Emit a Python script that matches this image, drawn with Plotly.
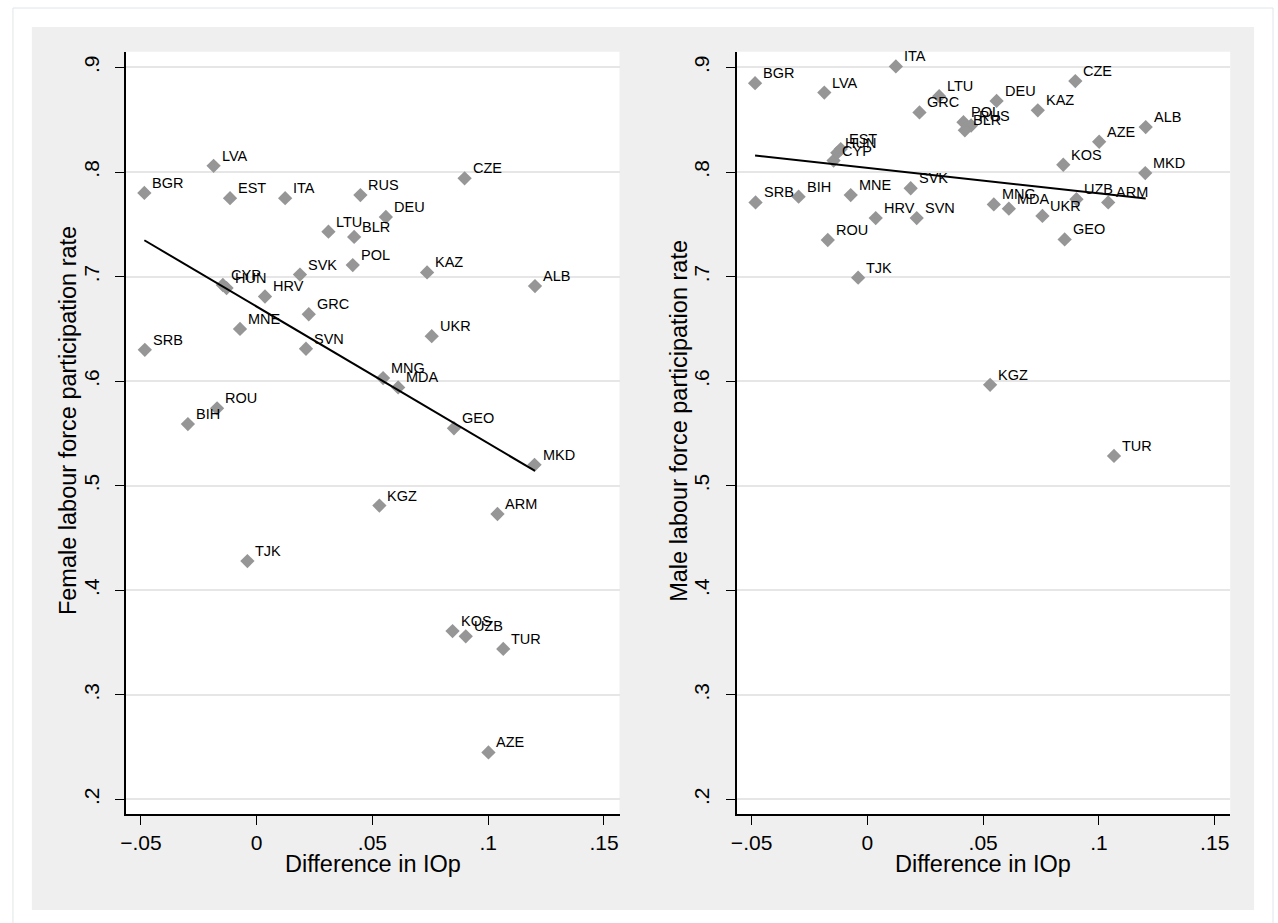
import numpy as np
import plotly.graph_objects as go

# Countries and their difference in inequality of opportunity (IOp)
countries = ["BGR", "LVA", "EST", "ITA", "RUS", "CZE", "DEU", "LTU", "BLR", "POL",
             "KAZ", "SVK", "CYP", "HUN", "HRV", "GRC", "MNE", "SRB", "SVN", "UKR",
             "MNG", "MDA", "ROU", "BIH", "GEO", "MKD", "ALB", "KGZ", "ARM", "KOS",
             "UZB", "TUR", "AZE", "TJK"]
iop_diff = [-0.0485, -0.0186, -0.0115, 0.0123, 0.0448, 0.0898, 0.0558, 0.0310, 0.0421, 0.0415,
            0.0736, 0.0187, -0.0146, -0.0130, 0.0036, 0.0225, -0.0072, -0.0483, 0.0213, 0.0756,
            0.0546, 0.0611, -0.0171, -0.0297, 0.0852, 0.1200, 0.1202, 0.0530, 0.1040, 0.0846,
            0.0903, 0.1065, 0.1001, -0.0040]

# Labour force participation rates
female_lfp = [0.780, 0.806, 0.775, 0.775, 0.778, 0.794, 0.757, 0.743, 0.738, 0.711,
              0.704, 0.702, 0.692, 0.689, 0.681, 0.664, 0.650, 0.630, 0.631, 0.643,
              0.603, 0.594, 0.574, 0.559, 0.555, 0.520, 0.691, 0.481, 0.473, 0.361,
              0.356, 0.344, 0.245, 0.428]
male_lfp = [0.885, 0.876, 0.822, 0.901, 0.8445, 0.887, 0.868, 0.8726, 0.840, 0.8477,
            0.859, 0.7845, 0.811, 0.8184, 0.756, 0.857, 0.778, 0.771, 0.756, 0.758,
            0.769, 0.765, 0.735, 0.7765, 0.7356, 0.799, 0.843, 0.5965, 0.771, 0.807,
            0.774, 0.5285, 0.829, 0.699]

x_tickvals = [-0.05, 0, 0.05, 0.1, 0.15]
x_ticktext = ["\u2212.05", "0", ".05", ".1", ".15"]
y_tickvals = [0.2, 0.3, 0.4, 0.5, 0.6, 0.7, 0.8, 0.9]
y_ticktext = [".2", ".3", ".4", ".5", ".6", ".7", ".8", ".9"]

panels = [
    ("Female labour force participation rate", female_lfp),
    ("Male labour force participation rate", male_lfp),
]

W, H = 1278, 923
FONT = "Liberation Sans, Arial, Helvetica, sans-serif"
MARKER_GREY = "#969696"

# pixel geometry of the two plot regions
plot_left = [120.4, 734.0]
plot_w = 496.0
plot_top, plot_bot = 51.7, 814.3
x_range = [-0.0565, 0.1567]
y_range = [0.1858, 0.9151]


def px(v):
    return v / W


def py(v):
    return 1 - v / H


fig = go.Figure()
shapes = []
annotations = []

# outer frame and grey graph region
shapes.append(dict(type="rect", xref="paper", yref="paper",
                   x0=px(7), x1=px(1273), y0=py(935), y1=py(8),
                   line=dict(color="#dfe6ea", width=1), fillcolor="white", layer="below"))
shapes.append(dict(type="rect", xref="paper", yref="paper",
                   x0=px(26), x1=px(1254), y0=py(910), y1=py(27),
                   line=dict(width=0), fillcolor="#efefef", layer="below"))

for i, (ytitle, yvals) in enumerate(panels):
    n = i + 1
    xa = "x" if n == 1 else f"x{n}"
    ya = "y" if n == 1 else f"y{n}"
    x0 = plot_left[i]
    dom_x = [px(x0), px(x0 + plot_w)]
    dom_y = [py(plot_bot), py(plot_top)]

    # white plot region
    shapes.append(dict(type="rect", xref="paper", yref="paper",
                       x0=dom_x[0], x1=dom_x[1], y0=dom_y[0], y1=dom_y[1],
                       line=dict(width=0), fillcolor="white", layer="below"))

    xs = np.array(iop_diff)
    ys = np.array(yvals)

    fig.add_trace(go.Scatter(
        x=xs, y=ys, mode="markers", xaxis=xa, yaxis=ya,
        marker=dict(symbol="diamond", size=11, color=MARKER_GREY, line=dict(width=0)),
        showlegend=False, hoverinfo="skip"))

    # linear fit over the observed range
    slope, intercept = np.polyfit(xs, ys, 1)
    fx = np.array([xs.min(), xs.max()])
    fig.add_trace(go.Scatter(
        x=fx, y=intercept + slope * fx, mode="lines", xaxis=xa, yaxis=ya,
        line=dict(color="black", width=2), showlegend=False, hoverinfo="skip"))

    for c, xv, yv in zip(countries, xs, ys):
        annotations.append(dict(
            x=xv, y=yv, xref=xa, yref=ya, text=c, showarrow=False,
            xanchor="left", yanchor="middle", xshift=6, yshift=10,
            font=dict(family=FONT, size=14.5, color="black")))

    axis_common = dict(
        ticks="outside", ticklen=9, tickwidth=1.3, tickcolor="black",
        showline=True, linecolor="black", linewidth=1.5,
        zeroline=False, tickfont=dict(family=FONT, size=21, color="black"),
    )
    fig.update_layout(**{
        ("xaxis" if n == 1 else f"xaxis{n}"): dict(
            domain=dom_x, range=x_range, anchor=ya,
            tickmode="array", tickvals=x_tickvals, ticktext=x_ticktext,
            showgrid=False, **axis_common),
        ("yaxis" if n == 1 else f"yaxis{n}"): dict(
            domain=dom_y, range=y_range, anchor=xa,
            tickmode="array", tickvals=y_tickvals, ticktext=y_ticktext,
            tickangle=-90, ticklabelstandoff=8,
            showgrid=True, gridcolor="#e6e6e6", gridwidth=1.5,
            **axis_common),
    })

    # axis titles
    annotations.append(dict(
        x=px(x0 + plot_w / 2), y=py(864), xref="paper", yref="paper",
        text="Difference in IOp", showarrow=False, xanchor="center", yanchor="middle",
        font=dict(family=FONT, size=23.5, color="black")))
    annotations.append(dict(
        x=px(x0 - 58), y=py(421), xref="paper", yref="paper",
        text=ytitle, textangle=-90, showarrow=False, xanchor="center", yanchor="middle",
        font=dict(family=FONT, size=23.5, color="black")))

fig.update_layout(
    width=W, height=H,
    margin=dict(l=0, r=0, t=0, b=0),
    paper_bgcolor="white", plot_bgcolor="rgba(0,0,0,0)",
    shapes=shapes, annotations=annotations,
    font=dict(family=FONT),
)

fig.write_html("out.html")
